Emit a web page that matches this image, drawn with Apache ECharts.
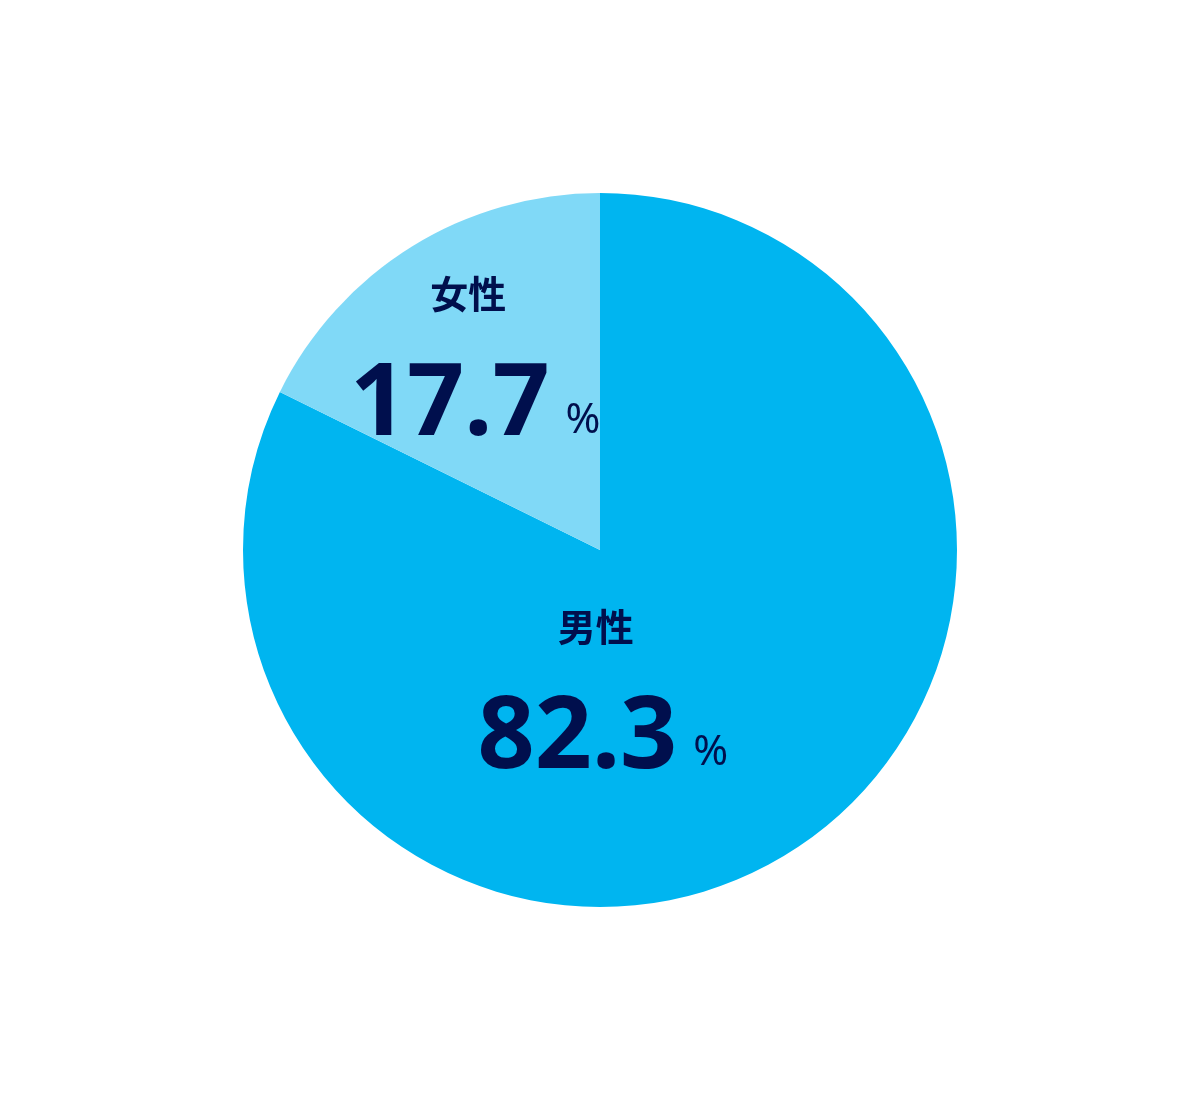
<!DOCTYPE html>
<html><head><meta charset="utf-8">
<script src="https://cdn.jsdelivr.net/npm/echarts@6/dist/echarts.min.js"></script>
<style>html,body{margin:0;padding:0;background:#fff}#c{width:1200px;height:1100px}</style>
</head><body><div id="c"></div>
<script>
const categories = ['男性', '女性'];
const values = [82.3, 17.7];
const colors = ['#00B5F0', '#80D9F7'];
const labelOffsets = [[-93, -18], [-29, -42]];

const chart = echarts.init(document.getElementById('c'), null, {renderer: 'canvas'});
chart.setOption({
  animation: false,
  backgroundColor: '#ffffff',
  series: [{
    type: 'pie',
    center: [600, 550],
    radius: [0, 357],
    startAngle: 90,
    clockwise: true,
    silent: true,
    itemStyle: {borderWidth: 0},
    labelLine: {show: false},
    data: categories.map((name, i) => ({
      name: name,
      value: values[i],
      itemStyle: {color: colors[i]},
      label: {offset: labelOffsets[i]}
    })),
    label: {
      show: true,
      position: 'inside',
      color: '#000F4D',
      fontFamily: '"Noto Sans", "Noto Sans CJK JP", sans-serif',
      formatter: p => '{n|' + p.name + '}\n{v|' + p.value.toFixed(1) + '}{p|%}',
      rich: {
        n: {fontSize: 38, fontWeight: 'bold', fontFamily: '"Noto Sans CJK JP", sans-serif', color: '#000F4D', lineHeight: 106, align: 'center', padding: [0, 14, 0, 0]},
        v: {fontSize: 100, fontWeight: 'bold', fontFamily: '"Noto Sans", sans-serif', color: '#000F4D', lineHeight: 120, padding: [0, 16, 0, 0]},
        p: {fontSize: 42, fontFamily: '"Noto Sans", sans-serif', color: '#000F4D', verticalAlign: 'bottom', lineHeight: 120, padding: [0, 0, 25, 0]}
      }
    }
  }]
});
</script></body></html>
